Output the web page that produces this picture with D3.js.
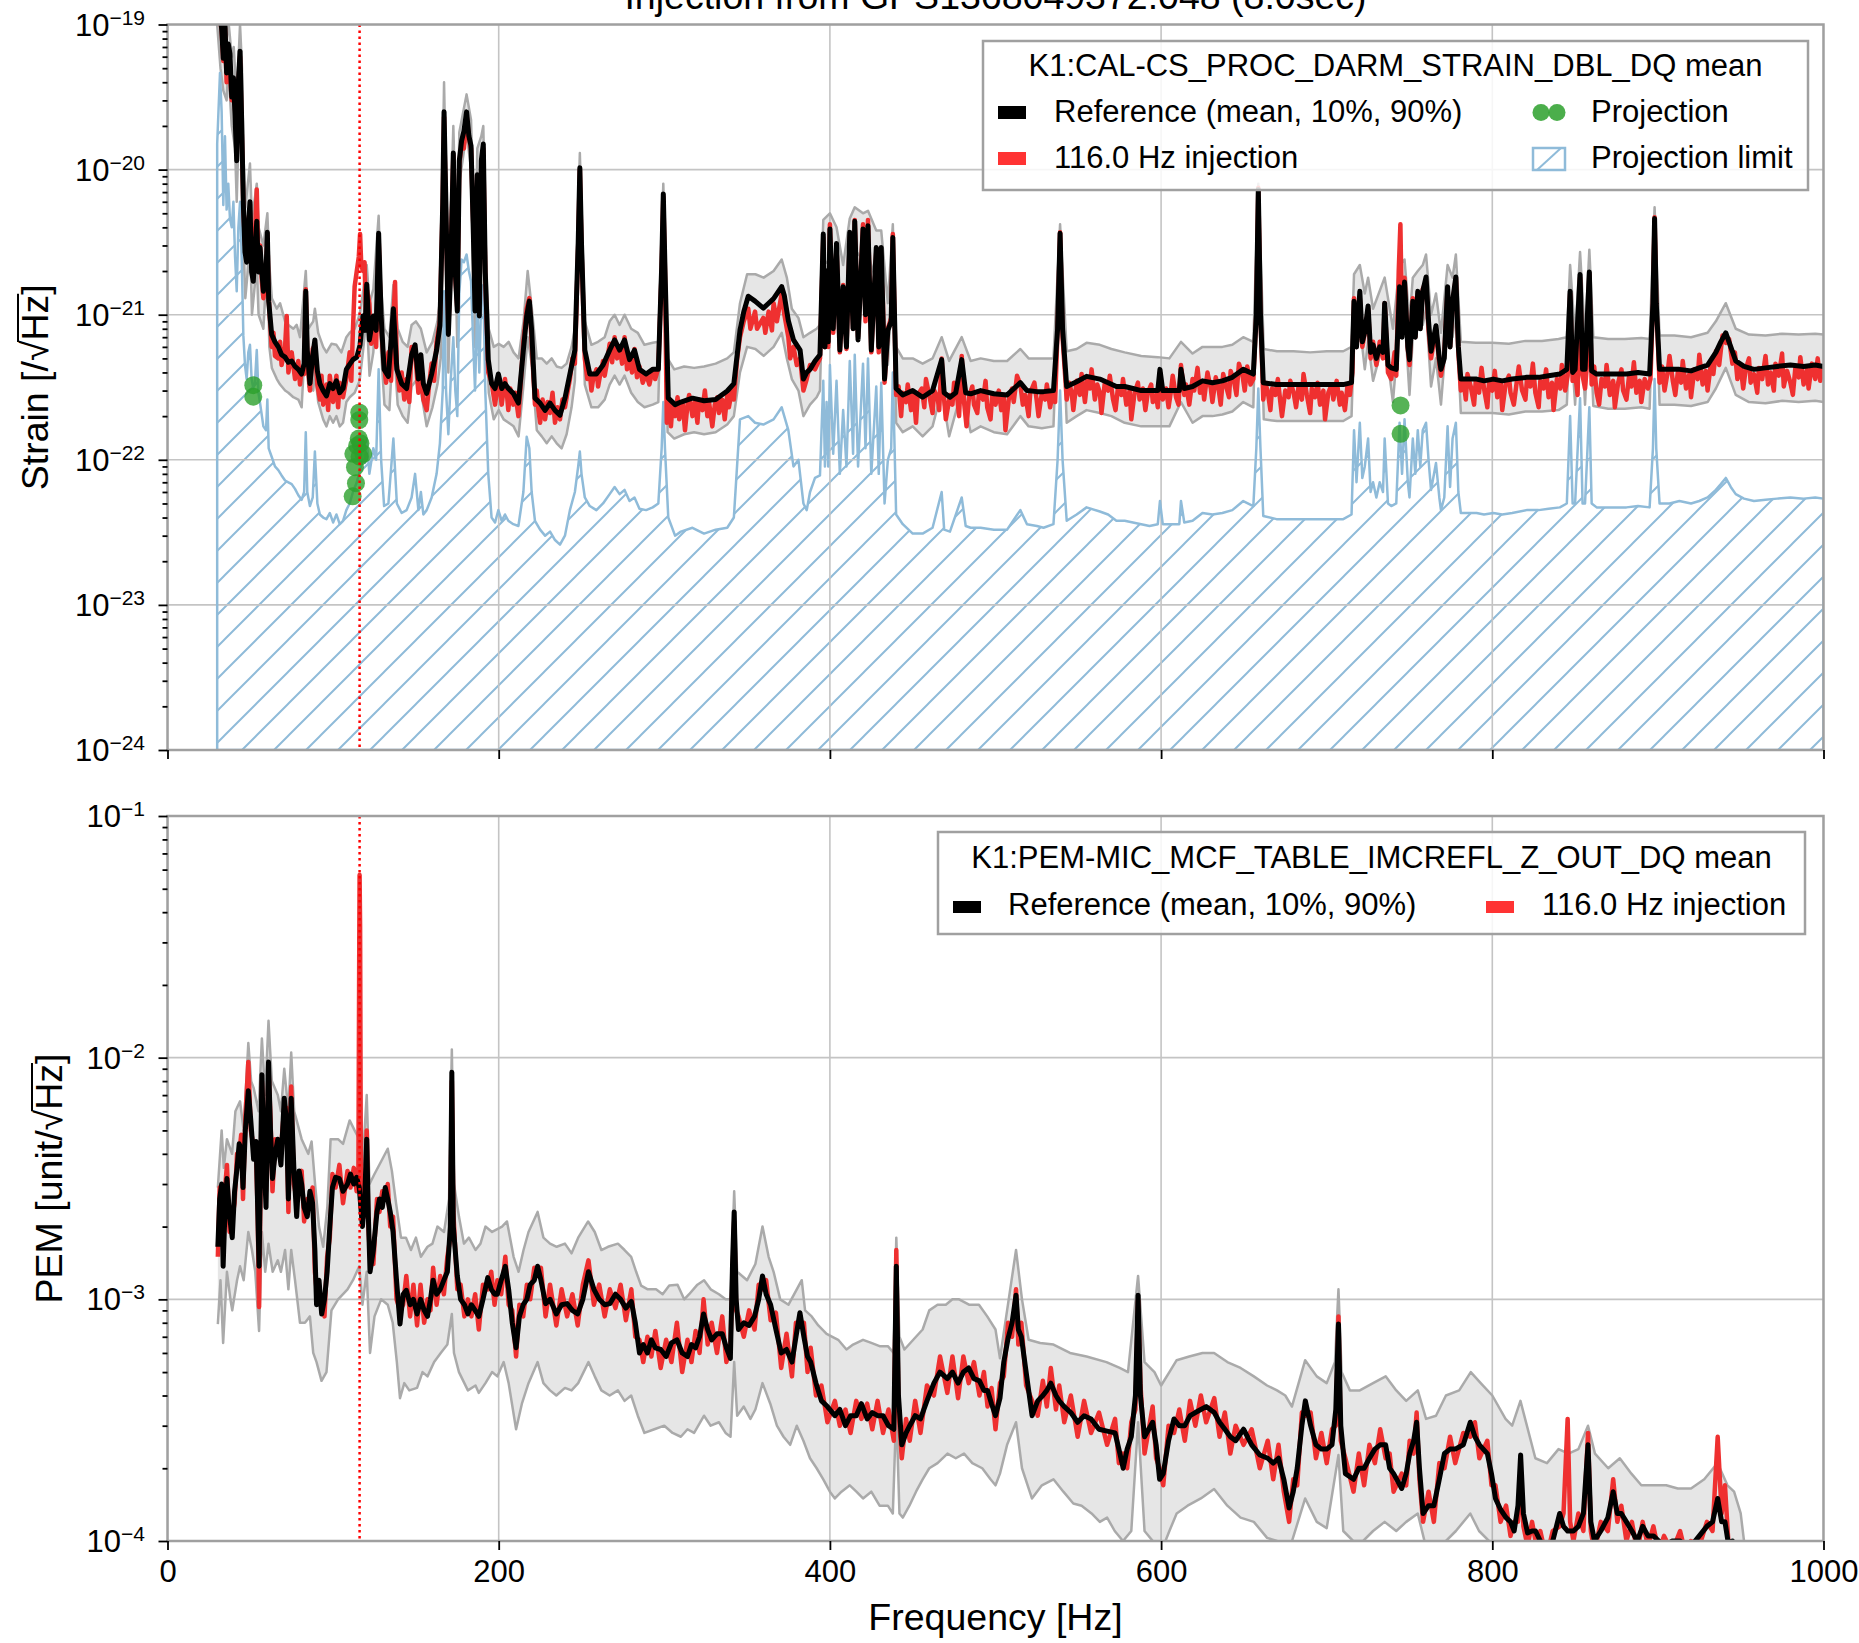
<!DOCTYPE html>
<html>
<head>
<meta charset="utf-8">
<script src="https://cdn.jsdelivr.net/npm/d3@7"></script>
<style>
body { margin: 0; background: #fff; }
svg { display: block; }
text { font-family: "Liberation Sans", Arial, Helvetica, sans-serif; fill: #000; }
</style>
</head>
<body>
<div id="chart"></div>
<script>
/* Chart values. Strain values are in units of 1e-22 /sqrt(Hz), PEM values in 1e-3 unit/sqrt(Hz). */
const STRAIN_UNIT = 1e-22;
const PEM_UNIT = 1e-3;
const injectionFreq = 116.0;
const chartTitle = 'Injection from GPS1368049372.048 (8.0sec)';
const xTicks = [0, 200, 400, 600, 800, 1000];
const strainChannel = 'K1:CAL-CS_PROC_DARM_STRAIN_DBL_DQ mean';
const pemChannel = 'K1:PEM-MIC_MCF_TABLE_IMCREFL_Z_OUT_DQ mean';

// Strain reference mean [freq Hz, value]
const strainMean = [[30,1300],[31.7,1200],[32.7,930],[33.7,585],[34.7,1000],[35.7,464],[36.7,735],[37.7,630],[38.8,316],[39.8,430],[40.8,230],[41.8,115],[42.8,400],[43.8,655],[44.8,214],[45.8,58],[46.8,27],[47.8,23],[48.8,40],[49.8,60],[50.8,19.7],[51.8,17],[52.8,27],[53.9,44],[54.9,19.7],[55.9,29],[57.9,14.5],[59.5,19.7],[60.3,37],[61.1,12.4],[62.9,7.3],[64.9,6.5],[66.9,6.0],[68.9,5.3],[71,5.1],[73,4.7],[75,4.8],[77,4.4],[79,4.2],[81,3.9],[82.5,4.6],[83.5,14.5],[84.4,5.7],[86,3.35],[87.7,5.2],[89,6.7],[90.5,4.1],[92,3.35],[94,3.0],[96,2.76],[98,3.35],[100,3.1],[102,3.5],[104,2.9],[106,3.1],[108,4.2],[110,4.55],[112,4.9],[114.3,5.1],[116.3,6.2],[118,9.8],[119.3,7.8],[120.3,16.2],[121.9,6.7],[124.3,9.8],[126,7.8],[127.5,36.4],[129,9.8],[130.8,4.2],[133.4,3.76],[136.4,11],[138.5,4.2],[141.4,3.35],[144.4,3.1],[147.4,5.3],[149.5,6.2],[151.5,3.6],[153,5.3],[154.5,3.35],[156.5,2.87],[159.5,3.9],[162.5,5.7],[164.5,8.4],[166.2,58],[167,250],[168.2,52],[169.6,7.3],[171,19.7],[172.6,130],[173.8,19.7],[175,10.6],[176.2,115],[177.6,158],[179,184],[180.6,250],[182,170],[183.3,146],[184.7,36],[185.7,10.6],[187.1,92],[188.3,9.8],[189.5,115],[190.7,150],[191.9,19.7],[193.7,4.9],[195.7,3.35],[197.8,3.1],[199.8,3.9],[201.8,3.1],[203.8,3.35],[205.8,3.1],[208.8,2.87],[211.9,2.46],[214.9,5.7],[216.9,9.8],[218.5,12.4],[219.9,7.8],[221.9,2.66],[225,2.46],[228,2.19],[231,2.46],[234,2.19],[237,2.03],[240,2.66],[243,3.9],[246,5.7],[248,31],[249,103],[250,31],[252,5.7],[255,3.9],[259,3.9],[263,4.5],[267,5.7],[270,6.7],[273,5.7],[276,6.7],[279,4.9],[282,5.7],[285,4.2],[289,3.9],[293,4.2],[296.4,4.2],[298.4,21],[299.4,68],[300.4,21],[302.4,2.66],[306.5,2.4],[310,2.5],[317,2.66],[324,2.55],[331,2.6],[338,2.98],[342,3.35],[345.7,7.8],[348,10.5],[350.7,13.4],[354.8,12.4],[359.8,11.1],[363,12],[366,12.9],[370.9,15.6],[372.5,13.5],[374.9,9.1],[378,6.7],[382,5.7],[384,3.6],[386,4.0],[388,4.2],[391,4.8],[394,5.3],[396,36],[397,6],[398,20],[399,6.5],[400,39],[402,8],[404,31],[406,5.7],[408,15.6],[410,6],[412,37],[414,8],[415,44],[417,6.7],[420,39],[421.5,10],[423,41],[425,5.7],[428,29],[429.5,6],[431,29],[433,3.6],[435,7.8],[437,9],[438,34],[440,3.1],[444,2.8],[450,3.0],[456,2.7],[462,3.0],[467.5,4.9],[469,2.9],[472.5,2.7],[476,2.9],[479.6,4.9],[482,2.9],[485,2.85],[491,3.0],[499,2.85],[507,2.8],[515,3.4],[519,3.0],[525,2.95],[529,2.95],[535,3.0],[537.5,8],[539,36.4],[540.5,8],[543,3.2],[549,3.45],[555,3.76],[563,3.6],[568,3.4],[573,3.2],[578,3.2],[583,3.1],[588,3.0],[593,3.0],[598,3.0],[599.3,4.2],[601,3.0],[605,3.0],[611,3.0],[612,4.2],[614,3.1],[619,3.2],[625,3.5],[631,3.4],[637,3.5],[643,3.7],[649.6,4.2],[655.7,3.9],[657.5,10],[658.7,73],[660,10],[661.7,3.4],[669.7,3.3],[679.8,3.3],[689.9,3.3],[700,3.3],[710,3.3],[715,3.4],[716.5,12.4],[718,6],[720,14.5],[721.5,6.5],[723,7.6],[725,11.5],[726.5,5.5],[728,6.2],[730,5],[732,6],[734,5.5],[735,12],[737,4.5],[739,4.3],[742,4.2],[744,15.6],[745.5,7],[747,16.8],[749,6],[750,4.9],[752,12.4],[753.5,7],[755,14.5],[756.5,8],[758,14.5],[760,18.2],[761.5,9],[763,5.6],[766,8.4],[768,5],[769,4.2],[771,5],[773,15.6],[774.5,6],[776,12.4],[778,18.2],[779.5,6],[781,3.6],[785,3.6],[790.5,3.6],[795,3.5],[800.6,3.6],[806,3.5],[812,3.6],[820.7,3.7],[828,3.7],[834,3.8],[840.8,3.9],[845,4.2],[847,14.5],[848.5,4],[850,4.2],[853,18.9],[854.5,4.2],[856,4.2],[858.6,19.7],[860,4.1],[863,3.9],[870,3.9],[876,3.9],[881,3.9],[888,4.0],[895,3.9],[897,12],[898,46],[899,12],[901,4.2],[907,4.2],[913,4.2],[920,4.1],[925,4.3],[930,4.5],[935,5.5],[938,6.5],[941,7.5],[944,6.0],[947,4.8],[952,4.4],[958,4.2],[965,4.3],[972,4.4],[980,4.5],[988,4.4],[995,4.5],[1000,4.4]];

// Strain reference 90th percentile
const strainP90 = [[30,1500],[32,1300],[34,1200],[35.7,800],[37,1000],[38.8,600],[40,700],[41.8,300],[43.8,1000],[45,500],[45.8,130],[47,55],[49.8,110],[51,45],[53.9,80],[55,40],[57.9,30],[60.3,50],[61.5,22],[63,13],[66,11],[68,12],[71,9],[73,8.5],[76,8],[78,8.5],[80,7],[83.5,20],[85,8],[88,9],[89,11],[91,7.5],[94,6],[96,5.5],[99,6.3],[102,6.2],[105,5.5],[108,7],[110,7.5],[113,8],[116,10],[118,14],[120.3,22],[122,12],[124.3,15],[127.5,48],[129,15],[131,8],[134,7],[136.4,16],[139,8],[142,6.5],[145,6],[147.4,8.5],[150,9],[153,8],[156.5,5.5],[160,6.5],[163,9],[165,14],[167,400],[169.6,12],[172.6,200],[175,18],[176.2,180],[180.6,330],[183.3,220],[185.7,20],[187.1,140],[189.5,170],[190.7,200],[192.5,20],[194,8],[197,6],[200,6.3],[203,6],[206,6.5],[209,5.5],[212,5],[215,9],[217.5,20],[220,11],[223,5],[226,5],[229,4.6],[232,5],[235,4.4],[238,4.3],[241,4.6],[244,6],[246,8],[249,130],[252,9],[256,6.2],[260,6.5],[264,7],[267,9],[270,10],[273,8.5],[276,10],[280,8],[284,7.5],[288,6.2],[293,6.4],[296.4,6.5],[299.4,80],[302,5],[306,4.2],[312,4.4],[318,4.3],[324,4.4],[331,4.6],[338,5],[342,5.5],[345.7,12],[350,19],[355,19],[360,18],[366,20],[370.9,24],[374,18],[377,11],[381,9.5],[384,7],[388,7.5],[392,8],[394,8.5],[396,45],[400,50],[404,40],[408,22],[412,46],[415,55],[420,50],[423,52],[428,38],[431,38],[435,12],[438,42],[440,6],[444,5],[450,5],[456,4.6],[462,5],[467.5,7],[472,4.8],[479.6,7],[485,4.8],[491,5],[499,4.8],[507,4.8],[515,5.8],[520,5],[528,5],[535,5],[539,42],[543,5.6],[549,5.8],[555,6.4],[563,6.2],[570,5.8],[578,5.5],[588,5.2],[598,5.1],[605,5],[612,6.5],[619,5.4],[625,6],[631,6],[637,6],[643,6.2],[649.6,7],[655.7,6.5],[658.7,80],[662,5.8],[670,5.6],[680,5.6],[690,5.5],[700,5.6],[710,5.6],[715,6],[716.5,19],[720,22],[723,14],[725,18],[728,11],[735,18],[740,8],[744,22],[747,24],[750,9],[752,18],[755,20],[758,22],[760,26],[763,10],[766,14],[769,7.5],[773,22],[776,18],[778,26],[781,6.5],[790,6.4],[800,6.4],[810,6.3],[820,6.6],[830,6.6],[840,6.8],[845,7],[847,22],[850,7],[853,27],[856,7],[858.6,28],[861,7],[870,6.8],[880,6.8],[890,6.9],[895,6.8],[898,55],[901,7.2],[910,7.2],[920,7],[930,7.5],[935,9],[941,12],[947,8],[955,7.3],[965,7.2],[975,7.4],[985,7.3],[995,7.4],[1000,7.3]];

// Strain reference 10th percentile
const strainP10 = [[30,1000],[32,500],[33.7,350],[35.7,300],[36.7,500],[38.8,200],[40.8,140],[41.8,60],[43.8,400],[44.8,120],[45.8,30],[47,13],[48.8,22],[49.8,35],[51,10],[53.9,22],[55,10],[57.9,8],[60.3,25],[61.5,6],[63,4.3],[66,3.6],[68,3.3],[71,3.0],[73,2.9],[76,2.7],[79,2.6],[81,2.3],[83.5,8],[85,3.2],[88,3.0],[89,4],[91,2.5],[94,1.9],[96,1.7],[98,2],[100,1.8],[102,2.0],[104,1.7],[106,1.8],[108,2.5],[110,2.7],[113,2.9],[116,3.5],[118,5.5],[120.3,10],[122,3.8],[124.3,5.5],[127.5,26],[129,5.5],[131,2.4],[134,2.2],[136.4,7],[139,2.4],[142,2],[145,1.8],[147.4,3.2],[150,3.5],[153,3],[156.5,1.7],[160,2.3],[163,3.3],[165,5],[167,160],[169.6,4],[172.6,90],[175,6],[176.2,80],[180.6,180],[183.3,100],[185.7,6],[187.1,60],[189.5,80],[190.7,100],[192.5,9],[194,2.9],[197,1.9],[200,2.2],[203,1.9],[206,1.8],[209,1.7],[212,1.45],[215,3.3],[217.5,7],[220,4.5],[223,1.6],[226,1.45],[229,1.3],[232,1.45],[235,1.3],[238,1.2],[241,1.5],[244,2.3],[246,3.5],[249,80],[252,3.3],[256,2.3],[260,2.3],[264,2.6],[267,3.3],[270,3.8],[273,3.3],[276,3.8],[280,2.9],[284,2.5],[288,2.3],[293,2.4],[296.4,2.5],[299.4,50],[302,1.55],[306,1.4],[312,1.5],[318,1.55],[324,1.5],[331,1.55],[338,1.75],[342,2],[345.7,4],[350,6],[355,5.8],[360,5.2],[366,6],[370.9,7.5],[374,5],[377,3.6],[381,3],[384,2],[388,2.4],[392,2.7],[394,3],[396,22],[400,24],[404,19],[408,9],[412,22],[415,28],[420,24],[423,26],[428,17],[431,17],[435,4.5],[438,22],[440,1.8],[444,1.55],[450,1.7],[456,1.45],[462,1.7],[467.5,3],[472,1.45],[479.6,3],[485,1.55],[491,1.7],[499,1.55],[507,1.5],[515,2],[520,1.7],[528,1.65],[535,1.7],[539,28],[543,1.8],[549,2],[555,2.2],[563,2.1],[570,2],[578,1.8],[588,1.7],[598,1.7],[605,1.7],[612,2.5],[619,1.8],[625,2],[631,2],[637,2.05],[643,2.15],[649.6,2.5],[655.7,2.3],[658.7,60],[662,1.9],[670,1.85],[680,1.85],[690,1.85],[700,1.85],[710,1.85],[715,2],[716.5,7],[720,8.5],[723,4.2],[725,6.5],[728,3.5],[735,7],[740,2.5],[744,9],[747,10],[750,2.8],[752,7],[755,8.5],[758,8.5],[760,11],[763,3.2],[766,5],[769,2.4],[773,9],[776,7],[778,11],[781,2.1],[790,2.1],[800,2.1],[810,2.05],[820,2.15],[830,2.15],[840,2.2],[845,2.4],[847,8.5],[850,2.4],[853,11],[856,2.4],[858.6,11],[861,2.35],[870,2.25],[880,2.25],[890,2.3],[895,2.25],[898,30],[901,2.4],[910,2.4],[920,2.35],[930,2.5],[935,3.1],[941,4.3],[947,2.8],[955,2.5],[965,2.45],[975,2.55],[985,2.5],[995,2.55],[1000,2.5]];

// Strain during the 116 Hz injection
const strainInj = [[30,1300],[31.7,1100],[32.7,900],[33.7,560],[34.7,950],[35.7,400],[36.7,700],[37.7,480],[38.8,300],[39.8,420],[40.8,260],[41.8,170],[42.8,380],[43.8,600],[44.8,190],[45.8,55],[46.8,30],[47.8,35],[48.8,45],[49.8,52],[50.8,23],[51.8,18],[52.8,35],[53.9,73],[54.9,22],[55.9,30],[57,17],[57.9,13],[59.5,18],[60.3,36],[61.1,13],[62.9,6],[64,7.5],[64.9,5.2],[66.9,5],[68,6.5],[68.9,4.5],[71,6],[72,9.8],[73,4],[75,5.5],[77,3.6],[79,4.8],[80,3.3],[81,4.2],[82.5,3.9],[83.5,15],[84.4,5],[86,3.0],[87.7,5.8],[89,6.2],[90.5,3.3],[92,2.6],[93,3.8],[94,2.4],[96,3.3],[97,2.2],[98,3.8],[100,2.5],[102,3.8],[103,2.3],[104,3.4],[106,2.7],[108,3.6],[110,5.5],[111,3.5],[112,8],[113,15.6],[114.3,20],[115.5,25],[116.3,36],[117,22],[118,20],[119,23],[119.8,10],[120.3,15],[121.9,12],[123,6.3],[124.3,9],[126,6],[127.5,34],[129,8],[130.8,4.5],[132,3.4],[133.4,5.5],[135,3.5],[136.4,9],[137.4,16.8],[138.5,4.5],[140,3],[141.4,4],[143,2.6],[144.4,3.6],[146,2.5],[147.4,6],[149.5,5.5],[151.5,2.9],[153,4.5],[154.5,2.6],[156.5,2.2],[158,3.3],[159.5,4.6],[161,3.5],[162.5,6.5],[164.5,9],[166.2,60],[167,230],[168.2,45],[169.6,8],[171,22],[172.6,125],[173.8,18],[175,11],[176.2,110],[177.6,150],[179,140],[180.6,240],[182,165],[183.3,140],[184.7,40],[185.7,25],[187.1,80],[188.3,12],[189.5,100],[190.7,140],[191.9,18],[193.7,4],[195.7,3.4],[197.8,2.4],[199.8,3.6],[201,2.9],[201.8,2.4],[203.8,3.6],[205,2.8],[205.8,2.2],[207,3.1],[208.8,2.4],[210,2.9],[211.9,2.0],[213,3.0],[214.9,6.5],[216.9,11],[218.5,13],[219.9,6.5],[221.9,2.4],[223,3.0],[224,2.2],[225,1.8],[226.5,2.6],[228,1.9],[229.5,2.5],[231,2.1],[232.5,2.9],[234,1.8],[235.5,2.3],[237,1.9],[238.5,2.6],[240,2.3],[241.5,2.9],[243,3.6],[244.5,5.0],[246,4.6],[248,30],[249,100],[250,28],[252,5],[253.5,3.6],[255,4.0],[256,3.0],[257,3.6],[259,4.2],[260,3.2],[261,3.7],[263,4.8],[264,3.8],[265,4.4],[267,6.3],[268.5,4.7],[270,7.0],[271.5,5.0],[273,6.0],[274.5,4.6],[276,7.0],[277.5,4.2],[279,5.0],[280.5,4.0],[282,5.8],[283.5,3.7],[285,4.4],[287,3.4],[289,3.9],[291,3.3],[293,4.2],[294.5,3.6],[296.4,4.3],[298.4,20],[299.4,65],[300.4,20],[301.5,1.8],[302.4,2.6],[304,1.7],[305,2.4],[306.5,2.0],[308,2.7],[309,1.9],[311,2.5],[312.5,1.6],[314,2.4],[315,2.8],[317,2.0],[318.5,2.5],[320,1.8],[321,2.6],[323,2.2],[324.5,3.0],[326,2.0],[327,2.5],[329,1.7],[330.5,2.4],[332,2.7],[333,2.1],[335,2.6],[336.5,1.9],[338,2.8],[339,2.3],[341,3.1],[342,2.6],[344,5],[345.7,7],[348,9],[350.7,11],[352,8],[354.8,10.5],[356,8],[359.8,9.5],[361,7.5],[363,10.5],[365,7.8],[366,12],[368,9],[370.9,14],[372.5,10],[374.9,7],[376,5],[378,6],[380,4.5],[382,5],[384,3],[386,3.6],[388,4.5],[391,4.2],[394,5],[396,34],[397,6],[398,18],[399,6],[400,42],[402,7.5],[404,30],[406,5.5],[408,16],[410,5.8],[412,34],[414,8],[415,45],[417,7],[420,42],[421.5,9],[423,45],[425,5.5],[428,27],[429.5,5.5],[431,20],[432,12],[433,3.4],[435,8],[437,9.5],[438,36],[440,2.8],[441.5,3.2],[443,2.0],[444,2.9],[446,2.5],[447,3.3],[449,2.2],[450.5,2.9],[452,1.8],[453,2.8],[455.5,3.1],[457,2.3],[458,3.6],[460.5,2.6],[462,2.1],[463,3.0],[465,2.7],[466,2.2],[467.5,5],[469,2.6],[470,1.9],[472.5,2.8],[474,2.4],[475,3.4],[477,2.6],[478,2.0],[479.6,5.2],[481,2.5],[482.5,1.7],[484,2.7],[486,3.2],[487,2.4],[489,2.1],[490,2.9],[492.5,2.6],[494,3.5],[495,2.3],[497,1.9],[498,2.8],[500,2.4],[502,3.0],[503.5,2.2],[505,2.7],[506,1.6],[508,2.6],[510,3.1],[511,2.5],[513,3.8],[515,3.3],[516.5,2.4],[518,2.8],[520,2.0],[521,2.9],[523.5,3.4],[525,2.5],[526,2.0],[528,2.9],[530,2.6],[531,3.3],[533,2.3],[534.5,2.9],[536,2.5],[537.5,8],[539,37],[540.5,7],[543,2.6],[544.5,3.4],[546,2.9],[547,2.2],[549,3.5],[551,2.8],[552,3.9],[554,2.5],[555.5,3.6],[557,3.1],[558,4.2],[560,2.6],[561.5,3.3],[563,2.9],[564,2.1],[566,3.4],[568,3.0],[569,3.8],[571,2.6],[572.5,2.2],[574,3.2],[576,2.8],[577,3.6],[579,2.4],[581,3.0],[582,1.9],[584,2.9],[586,3.4],[587,2.6],[589,3.1],[590.5,2.2],[592,2.9],[594,3.3],[595,2.5],[597,2.8],[598,2.3],[599.3,4],[601,2.6],[603,3.1],[604.5,2.3],[606,3.0],[607,3.8],[609,2.7],[610.5,2.4],[612,4.5],[614,2.8],[615,3.3],[617,2.4],[619,3.6],[620,3.0],[622,4.3],[623.5,2.9],[625,3.4],[626,2.6],[628,4.0],[630,3.1],[631,2.5],[633,3.7],[634.5,3.2],[636,2.4],[637.5,3.9],[639,3.3],[641,2.7],[642,4.1],[644,3.5],[645.5,2.8],[647,4.6],[649,3.9],[650.5,3.0],[652,4.4],[654,3.3],[655.7,3.6],[657.5,10],[658.7,75],[660,10],[661.7,2.6],[663,3.4],[664.5,2.9],[666,2.2],[667,3.1],[669,2.8],[670.5,3.6],[672,2.5],[673,2.0],[675,3.0],[677,2.7],[678,3.5],[680,2.9],[681.5,2.3],[683,3.2],[685,2.6],[686,3.9],[688,2.8],[690,2.1],[691,3.1],[693,2.7],[694.5,3.4],[696,2.4],[698,3.0],[699,1.9],[701,2.9],[703,3.3],[704,2.6],[706,3.5],[708,2.4],[709,2.9],[711,2.2],[712.5,3.2],[714,2.8],[715.5,4],[716.5,13],[718,6],[720,13],[721.5,6],[723,7.5],[725,11],[726.5,5],[728,6.5],[730,4.5],[732,6.5],[734,5],[735,12],[737,4],[739,3.6],[741,5.5],[742,3.8],[743.5,20],[744.5,42],[745.5,8],[747,18],[749,5.8],[750,4.5],[752,13],[753.5,7],[755,14],[756.5,8],[758,15],[760,17],[761.5,8],[763,5],[766,8],[768,4.6],[769,3.8],[771,5.3],[773,15],[774.5,6],[776,12],[778,18],[779.5,5.5],[781,3.0],[782.5,3.6],[784,2.6],[785,3.9],[787,3.2],[789,2.4],[790,3.5],[792,2.9],[793.5,4.3],[795,3.1],[797,2.3],[798,3.4],[800,3.0],[801.5,4.1],[803,2.7],[805,3.5],[806,2.2],[808,3.3],[810,3.8],[811,2.9],[813,2.4],[815,3.6],[816,4.4],[818,3.0],[820,2.6],[821,3.7],[823,3.2],[824.5,4.6],[826,2.9],[828,2.3],[829,3.5],[831,3.1],[832.5,4.2],[834,2.7],[836,3.4],[837,2.2],[839,3.6],[841,3.1],[842,4.5],[844,3.0],[845.5,3.8],[847,14],[848.5,3.5],[850,4.0],[851.5,2.8],[853,18],[854.5,3.8],[856,3.1],[857,4.3],[858.6,19],[860,3.3],[861.5,4.4],[863,2.9],[864.5,2.4],[866,3.6],[868,3.2],[869,4.5],[871,2.8],[873,3.5],[874,2.3],[876,3.4],[878,4.2],[879,3.0],[881,2.6],[882.5,3.7],[884,3.2],[885.5,4.7],[887,2.9],[889,3.5],[890,2.5],[892,3.6],[894,3.1],[895.5,3.6],[897,12],[898,47],[899,12],[901,3.4],[902.5,4.4],[904,3.0],[906,4.1],[907,5.2],[909,3.5],[910.5,2.8],[912,4.0],[914,3.4],[915,4.8],[917,3.1],[919,3.9],[920,2.7],[922,4.2],[924,3.6],[925,5.3],[927,3.3],[929,4.1],[930,3.0],[932,4.6],[933.5,3.9],[935,5.6],[937,4.5],[939,7.2],[941,6.4],[943,6.8],[945,4.6],[946.5,5.5],[948,3.6],[950,4.4],[951.5,3.1],[953,4.2],[955,5.0],[956,3.4],[958,3.9],[960,2.9],[961,4.3],[963,3.6],[965,5.2],[966.5,3.3],[968,4.0],[970,3.0],[971,4.6],[973,3.8],[975,5.4],[976,3.2],[978,4.1],[980,3.4],[981.5,2.8],[983,4.3],[985,3.7],[986,5.1],[988,3.3],[990,4.2],[991,3.1],[993,4.6],[995,3.6],[996.5,5.0],[998,3.5],[1000,4.3]];

// Projection limit (hatched region)
const strainLimit = [[30,150],[31.7,464],[32.7,250],[33.7,57],[34.7,170],[35.7,53],[36.7,80],[37.7,46],[38.8,40],[39.8,60],[40.8,25],[41.8,14.5],[42.8,40],[43.8,60],[44.8,25],[45.8,7.2],[46.8,4.5],[47.8,3.6],[48.8,5.5],[49.8,6.2],[50.8,3.6],[51.8,3.1],[52.8,3.4],[53.9,5.7],[54.9,2.9],[55.9,2.46],[57.9,1.7],[59.5,1.6],[60.3,2.6],[61.1,1.2],[62.9,1.05],[64.9,0.9],[66.9,0.85],[68.9,0.78],[71,0.72],[73,0.7],[75,0.68],[77,0.63],[79,0.57],[81,0.53],[82.5,0.6],[83.5,1.55],[84.4,0.6],[86,0.48],[87.7,0.55],[89,1.14],[90.5,0.5],[92,0.42],[94,0.4],[96,0.39],[98,0.43],[100,0.37],[102,0.42],[104,0.36],[106,0.38],[108,0.45],[110,0.5],[112,0.6],[114.3,0.7],[116.3,0.85],[118,1.0],[119.3,0.95],[120.3,1.4],[121.9,0.8],[124.3,1.2],[126,1.0],[127.5,4.2],[129,1.0],[130.8,0.48],[133.4,0.5],[136.4,1.4],[138.5,0.5],[141.4,0.43],[144.4,0.45],[147.4,0.55],[149.5,0.8],[151.5,0.45],[153,0.6],[154.5,0.42],[156.5,0.45],[159.5,0.55],[162.5,0.8],[164.5,1.3],[166.2,3],[167,14.5],[168.2,3],[169.6,1.5],[171,3.5],[172.6,7],[173.8,3],[175,2],[176.2,14],[177.6,24],[179,23],[180.6,26],[182,20],[183.3,17],[184.7,6],[185.7,3],[187.1,12],[188.3,4],[189.5,14],[190.7,16],[191.9,3],[193.7,0.8],[195.7,0.4],[197.8,0.37],[199.8,0.45],[201.8,0.38],[203.8,0.42],[205.8,0.38],[208.8,0.36],[211.9,0.35],[214.9,0.6],[216.9,1.44],[218.5,1.2],[219.9,0.6],[221.9,0.38],[225,0.33],[228,0.3],[231,0.32],[234,0.28],[237,0.26],[240,0.3],[243,0.45],[246,0.6],[248,0.9],[249,1.14],[250,0.8],[252,0.55],[255,0.48],[259,0.45],[263,0.5],[267,0.58],[270,0.65],[273,0.58],[276,0.62],[279,0.52],[282,0.55],[285,0.46],[289,0.45],[293,0.47],[296.4,0.5],[298.4,1.2],[299.4,2.5],[300.4,1.2],[302.4,0.4],[306.5,0.3],[310,0.32],[317,0.34],[324,0.31],[331,0.33],[338,0.34],[342,0.4],[345.7,1.9],[350.7,2.0],[354.8,1.8],[359.8,1.75],[366,1.9],[370.9,2.3],[374.9,1.6],[378,0.9],[381,1.0],[384,0.5],[386,0.45],[388,0.6],[391,0.75],[394,0.78],[396,3.5],[397,0.9],[398,2.5],[399,0.9],[400,4.5],[402,1.1],[404,3.5],[406,0.8],[408,2.2],[410,0.9],[412,4.8],[414,1.1],[415,5.3],[417,0.9],[420,4.6],[421.5,1.2],[423,5],[425,0.8],[428,3.2],[429.5,0.8],[431,3.4],[433,0.5],[435,1.0],[437,1.2],[438,4.0],[440,0.42],[444,0.36],[450,0.31],[456,0.31],[462,0.34],[467.5,0.6],[469,0.33],[472.5,0.32],[479.6,0.55],[482,0.35],[485,0.34],[491,0.34],[499,0.33],[507,0.33],[515,0.45],[519,0.36],[525,0.35],[529,0.34],[535,0.36],[537.5,1.0],[539,3.0],[540.5,1.0],[543,0.38],[549,0.42],[555,0.47],[563,0.44],[568,0.42],[573,0.38],[578,0.38],[583,0.37],[588,0.36],[593,0.35],[598,0.36],[599.3,0.52],[601,0.36],[605,0.36],[611,0.36],[612,0.52],[614,0.37],[619,0.38],[625,0.43],[631,0.42],[637,0.43],[643,0.45],[649.6,0.52],[655.7,0.48],[657.5,1.2],[658.7,3.1],[660,1.2],[661.7,0.41],[669.7,0.39],[679.8,0.39],[689.9,0.39],[700,0.39],[710,0.39],[715,0.42],[716.5,1.6],[718,0.7],[720,1.8],[721.5,0.75],[723,0.9],[725,1.4],[726.5,0.6],[728,0.7],[730,0.55],[732,0.7],[734,0.6],[735,1.4],[737,0.5],[739,0.48],[742,0.5],[744,1.8],[745.5,0.8],[747,1.9],[749,0.7],[750,0.55],[752,1.4],[753.5,0.8],[755,1.6],[756.5,0.9],[758,1.6],[760,1.8],[761.5,1.0],[763,0.62],[766,0.95],[768,0.55],[769,0.45],[771,0.55],[773,1.7],[774.5,0.65],[776,1.4],[778,1.8],[779.5,0.6],[781,0.43],[785,0.43],[790.5,0.43],[795,0.42],[800.6,0.43],[806,0.42],[812,0.43],[820.7,0.45],[828,0.45],[834,0.46],[840.8,0.47],[845,0.5],[847,2.0],[848.5,0.5],[850,0.5],[853,2.66],[854.5,0.5],[856,0.5],[858.6,2.3],[860,0.5],[863,0.47],[870,0.47],[876,0.47],[881,0.47],[888,0.48],[895,0.47],[897,1.2],[898,3.6],[899,1.2],[901,0.5],[907,0.5],[913,0.52],[920,0.5],[925,0.52],[930,0.55],[935,0.62],[938,0.68],[941,0.75],[944,0.65],[947,0.58],[952,0.54],[958,0.52],[965,0.53],[972,0.54],[980,0.55],[988,0.54],[995,0.55],[1000,0.54]];

// Projection points
const strainProj = [[51.8,3.27],[51.8,2.72],[115.8,2.12],[115.8,1.88],[115.5,1.4],[114.5,1.25],[116.5,1.3],[118.2,1.1],[112.2,1.1],[116,1.05],[113.2,0.89],[113.8,0.69],[111.8,0.56],[744.6,2.37],[744.6,1.51]];

// PEM reference mean
const pemMean = [[30.4,1.65],[31.5,2.6],[32.7,3.0],[33.6,1.37],[34.8,2.4],[35.9,3.16],[37.5,2.2],[39.1,1.8],[40.5,2.8],[42,3.5],[43.3,4.4],[44.5,4.2],[45.6,2.9],[47,5.0],[48.8,7.3],[50.3,5.5],[52,3.8],[53.5,4.5],[55.3,1.37],[57,8.5],[58.2,4.0],[59.5,2.4],[61,9.6],[62.2,5.0],[63.4,3.16],[65,4.0],[66.6,4.6],[68.5,3.6],[70.5,6.8],[71.8,5.5],[73,2.6],[74.7,6.8],[76.3,3.5],[78,2.2],[79.5,3.4],[81,3.0],[82.5,2.4],[84.4,2.2],[86,2.8],[87.6,2.5],[89,1.6],[90,0.95],[91.5,1.2],[93.1,0.87],[94.8,1.0],[96.4,1.3],[98,2.0],[99.6,2.9],[101.5,3.2],[103.8,3.16],[106,2.8],[108.7,3.0],[110.5,3.3],[112.5,3.0],[114.2,3.2],[115.8,2.9],[117.7,2.0],[119,2.5],[120.3,4.6],[121.3,2.2],[122.3,1.3],[124.3,1.6],[126.5,2.3],[128,2.6],[129.7,2.4],[131.5,2.9],[133,2.6],[134.5,2.3],[136.2,1.9],[138.3,1.2],[140.4,0.79],[142.3,1.05],[144.2,1.09],[146.5,0.95],[148.5,1.0],[150.7,0.87],[152.8,1.0],[155,0.9],[157,0.85],[158.8,1.0],[160.4,1.2],[162.5,1.05],[164.7,1.1],[166.9,1.2],[169,1.3],[170.8,2.0],[171.7,8.7],[172.6,2.0],[175,1.25],[177,1.0],[179.3,0.95],[181.4,0.87],[183.5,0.95],[185.8,0.9],[188,0.85],[190.5,1.0],[193.4,1.23],[195.5,1.1],[197.5,1.05],[199.2,1.05],[201.5,1.2],[204,1.37],[206,1.1],[208.2,0.8],[210.5,0.63],[212.5,0.85],[214.8,0.95],[217,1.0],[219,1.15],[221.5,1.2],[223.5,1.37],[225.5,1.2],[228.3,0.96],[231,1.0],[234.8,0.87],[238,0.95],[241.3,0.96],[244.5,0.9],[247.7,0.87],[250.8,1.0],[254.2,1.3],[257.5,1.1],[260.7,1.0],[264,0.95],[267.1,0.96],[270.5,1.05],[273.6,1.0],[276.8,0.92],[280.1,0.98],[282.5,0.8],[285,0.6],[287.3,0.65],[289.8,0.6],[292.2,0.68],[294.6,0.63],[297.8,0.62],[301.1,0.58],[304.3,0.66],[307.6,0.68],[310.8,0.6],[314,0.58],[316.4,0.65],[318.9,0.63],[321.3,0.7],[323.7,0.87],[326.2,0.75],[328.6,0.68],[331.8,0.72],[335,0.72],[337.5,0.63],[339.9,0.57],[341.2,1.4],[342.2,2.3],[343.4,1.0],[344.8,0.75],[348,0.8],[351.2,0.78],[354.5,0.85],[357,1.0],[359.3,1.25],[361.5,1.05],[364.2,0.95],[367.4,0.75],[370.6,0.6],[373.8,0.62],[377.1,0.55],[379.5,0.7],[381.9,0.88],[384.3,0.7],[386.5,0.58],[388.4,0.55],[391.6,0.45],[394.9,0.38],[398.5,0.36],[403,0.33],[406,0.35],[409.4,0.3],[412.5,0.33],[415.9,0.33],[419,0.37],[422.5,0.32],[425.6,0.34],[428.8,0.33],[432.1,0.33],[435.4,0.3],[438.6,0.29],[440.1,1.37],[441.4,0.4],[443.4,0.25],[446,0.28],[448.2,0.3],[451.5,0.33],[454.7,0.32],[458.6,0.38],[462.8,0.45],[466.5,0.5],[470.9,0.47],[474,0.5],[477.4,0.45],[480.6,0.5],[483.8,0.52],[487,0.47],[490.3,0.46],[493,0.42],[495.2,0.42],[497.6,0.37],[500,0.33],[502.7,0.39],[505,0.55],[507.6,0.69],[510,0.8],[512.4,1.04],[513.8,0.75],[515.6,0.7],[518.5,0.5],[522.1,0.33],[525.5,0.38],[528.6,0.4],[531,0.42],[533.4,0.45],[536.5,0.4],[538.5,0.38],[541.5,0.36],[545.5,0.34],[549.6,0.31],[553.5,0.33],[557.7,0.32],[562.5,0.29],[567.4,0.285],[572.2,0.28],[574.5,0.24],[577.1,0.2],[579.5,0.24],[582,0.27],[584.5,0.4],[586.1,1.04],[587.5,0.4],[590,0.27],[594.9,0.31],[597,0.25],[599.1,0.18],[601.3,0.19],[604.5,0.26],[607.8,0.32],[611,0.3],[614.3,0.3],[617.5,0.33],[620.7,0.34],[624,0.35],[627.2,0.36],[632.1,0.34],[635.3,0.31],[638.5,0.29],[641.8,0.27],[645,0.26],[649.8,0.29],[654.7,0.25],[659.6,0.227],[664.4,0.22],[667.7,0.21],[670.9,0.22],[674.1,0.18],[677.3,0.137],[679.8,0.16],[682.2,0.2],[685,0.3],[687.1,0.38],[690.3,0.3],[693.5,0.25],[696.8,0.24],[700,0.24],[703.2,0.25],[705.5,0.35],[707.1,0.79],[708.5,0.3],[711.3,0.19],[716.2,0.18],[719.4,0.2],[722.6,0.2],[725.8,0.22],[729.1,0.24],[732.3,0.25],[735.6,0.25],[738,0.2],[740.4,0.19],[745.3,0.165],[748,0.19],[750.1,0.23],[752.5,0.26],[754.3,0.31],[756,0.2],[758.2,0.13],[761.5,0.14],[764.7,0.14],[768,0.18],[771.1,0.23],[774.5,0.24],[777.6,0.24],[782.5,0.25],[786.7,0.31],[789.5,0.27],[792.2,0.25],[797,0.23],[799.5,0.19],[801.9,0.15],[805,0.135],[808.3,0.125],[811,0.12],[813.2,0.11],[815.5,0.14],[817.1,0.227],[818.8,0.13],[821.3,0.108],[824,0.11],[826.1,0.11],[829,0.1],[832.6,0.095],[836.5,0.1],[840.7,0.13],[843,0.115],[845.5,0.11],[849,0.11],[852,0.115],[855,0.13],[857.8,0.25],[859.5,0.12],[861.7,0.1],[865.5,0.11],[869.8,0.125],[873,0.16],[875.5,0.13],[877.9,0.13],[881,0.12],[884.3,0.11],[887.5,0.1],[890.8,0.115],[894,0.105],[897.3,0.105],[900.5,0.1],[903.7,0.095],[908.5,0.1],[913.4,0.1],[916.5,0.095],[919.9,0.095],[925,0.105],[929.6,0.115],[933,0.12],[936.1,0.15],[938.5,0.12],[940.5,0.12],[942.5,0.098],[945,0.1],[948,0.09],[951,0.08],[953,0.05]];

// PEM reference 90th percentile
const pemP90 = [[30.4,2.9],[32.7,5.0],[34,3.5],[35.9,4.6],[39,4.0],[41,6],[43.8,6.6],[46,5],[48.8,11.5],[50.5,8],[52,7.5],[55,6],[57,12],[59,7],[61,14.2],[63,8],[66.6,7],[68.5,6],[70.5,9],[73,6],[74.7,10.5],[76.5,6],[78,5.5],[81,4.6],[85,4.0],[87,4.5],[89.3,2.9],[91.5,2.0],[94,1.65],[96.5,2.4],[98.5,4.6],[103,4.6],[106,4.4],[110,5.5],[113,5.0],[115.8,4.6],[117.8,3.6],[120.3,7],[122,3.0],[125,3.3],[129.7,3.8],[133,4.2],[135.5,3.4],[138,2.5],[141,1.8],[144,1.8],[147,1.6],[150,1.8],[153,1.5],[157,1.65],[160,1.7],[163,2.0],[167,1.9],[170,2.6],[171.7,10.8],[173,3],[176,2.2],[179,1.7],[182,1.8],[186,1.6],[189,1.7],[192,2.0],[196,1.9],[202,2.0],[205,2.1],[209,1.5],[212,1.3],[215,1.6],[218,1.9],[223.5,2.3],[227,1.8],[231,1.7],[235,1.65],[240,1.7],[244,1.55],[248,1.8],[254,2.1],[258,1.9],[262,1.6],[266,1.65],[272,1.7],[276,1.6],[280,1.5],[283,1.3],[286,1.14],[290,1.1],[295,1.1],[299,1.05],[303,1.14],[308,1.15],[312,1.0],[315,1.05],[320,1.15],[324,1.2],[328,1.1],[333,1.05],[337,1.0],[340,1.0],[342.2,2.8],[344,1.3],[350,1.2],[355,1.4],[359.3,2.0],[363,1.5],[366,1.3],[370,1.0],[375,0.95],[380,1.1],[383,1.2],[385,0.9],[389,0.85],[393,0.78],[398,0.72],[405,0.68],[410,0.62],[414,0.65],[420,0.68],[425,0.66],[430,0.64],[435,0.64],[438.5,0.6],[440.1,1.8],[442,0.7],[445,0.62],[452,0.7],[456,0.75],[460,0.9],[465,0.95],[470,0.95],[474,1.0],[478,1.0],[484,0.95],[490,0.95],[495,0.85],[500,0.75],[502.7,0.57],[507,0.9],[512.4,1.6],[516,1.0],[520,0.68],[527,0.66],[535,0.65],[545,0.6],[555,0.58],[567,0.55],[575,0.52],[580,0.5],[586.1,1.25],[590,0.55],[596,0.5],[600,0.44],[605,0.5],[609.4,0.56],[617,0.58],[625,0.6],[632,0.6],[640,0.55],[648,0.52],[656,0.48],[664,0.44],[670,0.42],[675,0.4],[679,0.36],[687,0.56],[694,0.48],[700,0.45],[705,0.55],[707.1,1.1],[709,0.5],[714,0.42],[720,0.42],[728,0.45],[735.6,0.48],[742,0.42],[748,0.38],[755,0.42],[760,0.32],[766,0.33],[772,0.4],[780,0.42],[787,0.5],[793,0.45],[800,0.4],[808,0.32],[812,0.3],[817,0.38],[826,0.22],[833,0.21],[840,0.24],[846,0.23],[852,0.24],[857.8,0.3],[862,0.23],[870,0.2],[877,0.22],[884,0.19],[890,0.17],[897,0.17],[905,0.17],[912,0.165],[920,0.165],[928,0.18],[936,0.21],[942,0.17],[946,0.16],[950,0.13],[952,0.1],[954,0.05]];

// PEM reference 10th percentile
const pemP10 = [[30.4,0.79],[32,1.2],[33.6,0.66],[35.9,1.3],[38,1.0],[39.1,0.9],[42,1.2],[43.8,1.37],[46,1.2],[48.8,1.9],[51,1.6],[53,1.3],[55.3,0.74],[57,1.9],[59,1.3],[61,1.7],[63.5,1.3],[66.6,1.45],[68.5,1.3],[71,1.6],[73,1.1],[74.7,1.6],[77,1.2],[80,0.8],[83,0.8],[86,0.85],[88,0.6],[90,0.55],[93,0.46],[96,0.5],[99,0.9],[103,1.0],[108.7,1.1],[112,1.2],[115.8,1.37],[117.7,0.95],[120.3,1.3],[122.3,0.6],[125,0.85],[129,1.0],[133,0.95],[136,0.8],[138.5,0.55],[140.4,0.39],[143,0.45],[146,0.42],[150.7,0.43],[154,0.5],[157,0.48],[161,0.55],[165,0.6],[169,0.65],[171.7,0.87],[173,0.6],[176,0.5],[181.4,0.42],[186,0.44],[188,0.41],[192,0.45],[196,0.5],[199.2,0.48],[203,0.55],[206,0.45],[210.5,0.29],[214,0.37],[218,0.45],[223.5,0.55],[227,0.45],[231,0.42],[234.8,0.4],[240,0.43],[244,0.42],[248,0.45],[254.2,0.55],[258,0.48],[262,0.42],[267,0.4],[272,0.42],[276,0.38],[280,0.4],[284,0.33],[288,0.28],[294,0.29],[300,0.3],[305,0.28],[310,0.27],[314,0.29],[318,0.28],[324,0.33],[328,0.3],[333,0.31],[337,0.28],[340,0.27],[342.2,0.55],[344,0.33],[348,0.36],[352,0.32],[355,0.35],[359.3,0.45],[364,0.37],[368,0.3],[372,0.27],[376,0.25],[380,0.3],[384,0.26],[388,0.22],[392,0.2],[396,0.18],[400,0.16],[403,0.15],[407,0.16],[412,0.17],[416,0.16],[420,0.15],[425,0.16],[430,0.14],[435,0.14],[438,0.13],[440.1,0.35],[442,0.13],[444,0.125],[448,0.14],[452,0.16],[456,0.18],[460,0.2],[465,0.21],[471,0.23],[476,0.22],[481,0.23],[486,0.21],[492,0.2],[497,0.18],[500,0.17],[502.7,0.19],[507,0.25],[512.4,0.31],[516,0.2],[522,0.15],[528,0.17],[535,0.18],[541,0.16],[547,0.143],[552,0.14],[558,0.13],[563,0.12],[567.4,0.125],[572,0.11],[577,0.1],[582,0.11],[586.1,0.31],[590,0.11],[595,0.1],[600,0.09],[605,0.11],[609.4,0.13],[616,0.14],[624,0.15],[632,0.164],[640,0.14],[648,0.125],[656,0.12],[664,0.103],[670,0.1],[677,0.09],[687,0.15],[694,0.12],[700,0.113],[707.1,0.227],[710,0.11],[716,0.1],[722,0.1],[728,0.11],[735,0.12],[742,0.11],[748,0.12],[755,0.13],[760,0.094],[766,0.09],[772,0.1],[778,0.11],[786.7,0.13],[792,0.11],[798,0.1],[802,0.085],[810,0.08],[830,0.08],[860,0.08],[900,0.08],[950,0.08],[953,0.05]];

// PEM during the 116 Hz injection
const pemInj = [[30.4,1.5],[31.5,2.9],[32.7,2.6],[33.6,1.6],[34.8,2.9],[35.9,3.6],[37.5,1.9],[39.1,2.2],[40.5,2.5],[42,4.0],[43.3,4.0],[44.5,4.8],[45.6,2.6],[47,5.6],[48.8,9.6],[50.3,5.0],[52,4.3],[53.5,4.0],[54.5,2.2],[55.3,0.93],[56.2,3],[57,8.0],[58.2,4.5],[59.5,2.8],[61,9.0],[62.2,5.6],[63.4,2.8],[65,4.6],[66.6,4.0],[68.5,4.2],[70.5,6.2],[71.8,6.2],[73,2.3],[74.7,7.6],[76.3,3.0],[78,2.6],[79.5,3.0],[81,3.4],[82.5,2.1],[84.4,2.6],[86,2.4],[87.6,2.9],[89,1.3],[90,1.1],[91.5,1.0],[93.1,1.0],[94.8,0.85],[96.4,1.5],[98,1.8],[99.6,3.3],[101.5,2.9],[103.8,3.6],[106,2.5],[108.7,3.4],[110.5,2.9],[112.5,3.5],[114.2,2.8],[115.3,3.5],[115.8,30],[116,57],[116.3,35],[116.8,2.6],[117.7,2.3],[119,2.2],[120.3,5.0],[121.3,2.0],[122.3,1.5],[124.3,1.4],[126.5,2.6],[128,2.3],[129.7,2.8],[131.5,2.6],[133,3.0],[134.5,2.0],[136.2,2.2],[138.3,1.0],[140.4,0.9],[142.3,0.95],[144.2,1.25],[146.5,0.85],[148.5,1.15],[150.7,0.78],[152.8,1.15],[155,0.8],[157,1.0],[158.8,0.9],[160.4,1.35],[162.5,0.95],[164.7,1.25],[166.9,1.05],[169,1.5],[170.8,1.8],[171.7,8.0],[172.6,2.3],[175,1.1],[177,1.15],[179.3,0.85],[181.4,1.0],[183.5,0.85],[185.8,1.05],[188,0.75],[190.5,1.15],[193.4,1.1],[195.5,1.3],[197.5,0.95],[199.2,1.2],[201.5,1.05],[204,1.5],[206,0.95],[208.2,0.9],[210.5,0.58],[212.5,0.95],[214.8,0.85],[217,1.15],[219,1.0],[221.5,1.35],[223.5,1.25],[225.5,1.35],[228.3,0.85],[231,1.15],[234.8,0.78],[238,1.1],[241.3,0.85],[244.5,1.05],[247.7,0.78],[250.8,1.15],[254.2,1.45],[257.5,0.95],[260.7,1.15],[264,0.85],[267.1,1.1],[270.5,0.92],[273.6,1.15],[276.8,0.82],[280.1,1.1],[282.5,0.7],[285,0.68],[287.3,0.55],[289.8,0.7],[292.2,0.58],[294.6,0.74],[297.8,0.52],[301.1,0.68],[304.3,0.55],[307.6,0.8],[310.8,0.5],[314,0.68],[316.4,0.55],[318.9,0.74],[321.3,0.6],[323.7,1.0],[326.2,0.65],[328.6,0.8],[331.8,0.6],[335,0.85],[337.5,0.55],[339.9,0.65],[341.2,1.2],[342.2,2.1],[343.4,0.9],[344.8,0.85],[348,0.7],[351.2,0.9],[354.5,0.75],[357,1.15],[359.3,1.1],[361.5,1.2],[364.2,0.82],[367.4,0.88],[370.6,0.52],[373.8,0.72],[377.1,0.48],[379.5,0.8],[381.9,0.78],[384.3,0.8],[386.5,0.5],[388.4,0.63],[391.6,0.4],[394.9,0.44],[398.5,0.31],[403,0.38],[406,0.3],[409.4,0.35],[412.5,0.28],[415.9,0.38],[419,0.32],[422.5,0.37],[425.6,0.29],[428.8,0.38],[432.1,0.28],[435.4,0.35],[438.6,0.26],[440.1,1.6],[441.4,0.35],[443.4,0.22],[446,0.32],[448.2,0.26],[451.5,0.38],[454.7,0.28],[458.6,0.44],[462.8,0.4],[466.5,0.58],[470.9,0.41],[474,0.58],[477.4,0.39],[480.6,0.58],[483.8,0.45],[487,0.55],[490.3,0.4],[493,0.5],[495.2,0.36],[497.6,0.43],[500,0.29],[502.7,0.45],[505,0.48],[507.6,0.8],[510,0.7],[512.4,1.1],[513.8,0.65],[515.6,0.8],[518.5,0.44],[522.1,0.38],[525.5,0.33],[528.6,0.46],[531,0.36],[533.4,0.52],[536.5,0.35],[538.5,0.44],[541.5,0.31],[545.5,0.4],[549.6,0.27],[553.5,0.38],[557.7,0.28],[562.5,0.34],[567.4,0.25],[572.2,0.32],[574.5,0.21],[577.1,0.23],[579.5,0.2],[582,0.31],[584.5,0.35],[586.1,1.0],[587.5,0.45],[590,0.23],[594.9,0.36],[597,0.22],[599.1,0.2],[601.3,0.17],[604.5,0.3],[607.8,0.28],[611,0.35],[614.3,0.26],[617.5,0.38],[620.7,0.3],[624,0.4],[627.2,0.31],[632.1,0.39],[635.3,0.27],[638.5,0.34],[641.8,0.23],[645,0.3],[649.8,0.25],[654.7,0.29],[659.6,0.2],[664.4,0.26],[667.7,0.18],[670.9,0.25],[674.1,0.16],[677.3,0.12],[679.8,0.18],[682.2,0.17],[685,0.34],[687.1,0.33],[690.3,0.34],[693.5,0.22],[696.8,0.28],[700,0.21],[703.2,0.29],[705.5,0.3],[707.1,0.85],[708.5,0.26],[711.3,0.22],[716.2,0.16],[719.4,0.23],[722.6,0.17],[725.8,0.25],[729.1,0.21],[732.3,0.29],[735.6,0.22],[738,0.23],[740.4,0.16],[745.3,0.19],[748,0.17],[750.1,0.26],[752.5,0.23],[754.3,0.34],[756,0.18],[758.2,0.12],[761.5,0.16],[764.7,0.12],[768,0.21],[771.1,0.2],[774.5,0.27],[777.6,0.21],[782.5,0.28],[786.7,0.27],[789.5,0.31],[792.2,0.22],[797,0.26],[799.5,0.17],[801.9,0.17],[805,0.12],[808.3,0.14],[811,0.105],[813.2,0.12],[815.5,0.12],[817.1,0.2],[818.8,0.115],[821.3,0.095],[824,0.12],[826.1,0.1],[829,0.11],[832.6,0.085],[836.5,0.11],[840.7,0.115],[843,0.13],[845.5,0.32],[847,0.12],[849,0.1],[852,0.13],[855,0.11],[857.8,0.28],[859.5,0.11],[861.7,0.09],[865.5,0.12],[869.8,0.11],[873,0.18],[875.5,0.12],[877.9,0.14],[881,0.1],[884.3,0.12],[887.5,0.09],[890.8,0.12],[894,0.095],[897.3,0.115],[900.5,0.09],[903.7,0.105],[908.5,0.09],[913.4,0.11],[916.5,0.09],[919.9,0.1],[925,0.095],[929.6,0.12],[933,0.11],[936.1,0.27],[938.5,0.13],[940.5,0.17],[942.5,0.1],[945,0.09],[948,0.085],[951,0.07],[953,0.05]];

/* Layout and style. */
const W = 1859, H = 1643;
const X0 = 167.5, X1 = 1823.5;
const COL = {mean: '#000', band: '#808080', pct: '#aaaaaa', inj: '#ef3030', injLegend: '#ff3333', limit: '#8fbbd9', proj: '#2ca02c', grid: '#c4c4c4', spine: '#a0a0a0'};
const TICK_FS = 31, LABEL_FS = 37.5, LEGEND_FS = 31;

const panels = [
    {top: 24.5, bottom: 750, dom: [1e-24, 1e-19], unit: STRAIN_UNIT,
     mean: strainMean, p10: strainP10, p90: strainP90, inj: strainInj, limit: strainLimit, proj: strainProj,
     label: ['Strain [/\u221A', 'Hz', ']'], labelX: 48, showX: false},
    {top: 816, bottom: 1541, dom: [1e-4, 1e-1], unit: PEM_UNIT,
     mean: pemMean, p10: pemP10, p90: pemP90, inj: pemInj, limit: null, proj: null,
     label: ['PEM [unit/\u221A', 'Hz', ']'], labelX: 62, showX: true}
];

const x = d3.scaleLinear().domain([0, 1000]).range([X0, X1]);

const svg = d3.select('#chart').append('svg')
    .attr('width', W)
    .attr('height', H);
svg.append('rect').attr('width', W).attr('height', H).attr('fill', '#fff');

const defs = svg.append('defs');
// '/' hatch for the projection limit.
const hatch = defs.append('pattern')
    .attr('id', 'hatch')
    .attr('patternUnits', 'userSpaceOnUse')
    .attr('width', 32)
    .attr('height', 32);
hatch.append('path')
    .attr('d', 'M-8,8L8,-8M0,32L32,0M24,40L40,24')
    .attr('stroke', COL.limit)
    .attr('stroke-width', 2);

function drawPanel(p, i) {
    const y = d3.scaleLog().domain(p.dom).range([p.bottom, p.top]);
    const yv = d => y(d[1] * p.unit);

    defs.append('clipPath').attr('id', 'clip' + i)
        .append('rect')
        .attr('x', X0).attr('y', p.top)
        .attr('width', X1 - X0).attr('height', p.bottom - p.top);

    const g = svg.append('g');
    const plot = g.append('g').attr('clip-path', 'url(#clip' + i + ')');
    const line = d3.line().x(d => x(d[0])).y(yv);

    // Hatched projection limit.
    let limitArea;
    if (p.limit) {
        limitArea = d3.area().x(d => x(d[0])).y0(p.bottom).y1(yv);
        plot.append('path').attr('d', limitArea(p.limit)).attr('fill', 'url(#hatch)');
    }

    // Grid.
    const majors = d3.range(Math.log10(p.dom[0]), Math.log10(p.dom[1]) + 1).map(e => Math.pow(10, e));
    plot.append('g').selectAll('line').data(xTicks).join('line')
        .attr('x1', d => x(d)).attr('x2', d => x(d))
        .attr('y1', p.top).attr('y2', p.bottom)
        .attr('stroke', COL.grid).attr('stroke-width', 1.6);
    plot.append('g').selectAll('line').data(majors).join('line')
        .attr('x1', X0).attr('x2', X1)
        .attr('y1', d => y(d)).attr('y2', d => y(d))
        .attr('stroke', COL.grid).attr('stroke-width', 1.6);

    // Reference 10%-90% band.
    const band = p.p90.concat(p.p10.slice().reverse());
    plot.append('path').attr('d', line(band) + 'Z')
        .attr('fill', COL.band).attr('fill-opacity', 0.2);
    for (const s of [p.p10, p.p90])
        plot.append('path').attr('d', line(s))
            .attr('fill', 'none').attr('stroke', COL.pct).attr('stroke-width', 2.5)
            .attr('stroke-linejoin', 'round');

    if (p.limit)
        plot.append('path').attr('d', limitArea(p.limit))
            .attr('fill', 'none').attr('stroke', COL.limit).attr('stroke-width', 2.5)
            .attr('stroke-linejoin', 'round');

    plot.append('path').attr('d', line(p.inj))
        .attr('fill', 'none').attr('stroke', COL.inj).attr('stroke-width', 4.5)
        .attr('stroke-linejoin', 'round');
    plot.append('path').attr('d', line(p.mean))
        .attr('fill', 'none').attr('stroke', COL.mean).attr('stroke-width', 5)
        .attr('stroke-linejoin', 'round');

    if (p.proj)
        plot.append('g').selectAll('circle').data(p.proj).join('circle')
            .attr('cx', d => x(d[0])).attr('cy', yv).attr('r', 9)
            .attr('fill', COL.proj).attr('fill-opacity', 0.8);

    // Injection frequency marker.
    plot.append('line')
        .attr('x1', x(injectionFreq)).attr('x2', x(injectionFreq))
        .attr('y1', p.top).attr('y2', p.bottom)
        .attr('stroke', 'red').attr('stroke-width', 2.5).attr('stroke-dasharray', '2.5,3.5');

    // Frame.
    g.append('rect')
        .attr('x', X0).attr('y', p.top)
        .attr('width', X1 - X0).attr('height', p.bottom - p.top)
        .attr('fill', 'none').attr('stroke', COL.spine).attr('stroke-width', 2.5);

    // Y axis: minor and major ticks, labels as 10^n.
    const minors = [];
    for (const m of majors.slice(0, -1))
        for (let k = 2; k < 10; k++) minors.push(m * k);
    const yMinor = g.append('g').attr('transform', 'translate(' + X0 + ',0)')
        .call(d3.axisLeft(y).tickValues(minors).tickSize(5).tickFormat(''));
    const yMajor = g.append('g').attr('transform', 'translate(' + X0 + ',0)')
        .call(d3.axisLeft(y).tickValues(majors).tickSize(9).tickFormat(''));
    for (const ax of [yMinor, yMajor]) {
        ax.select('.domain').remove();
        ax.selectAll('.tick line').attr('stroke', '#000').attr('stroke-width', 1.8);
        ax.selectAll('.tick text').remove();
    }
    const lab = yMajor.selectAll('.tick').append('text')
        .attr('x', -22.5).attr('y', 10.5)
        .attr('text-anchor', 'end')
        .attr('font-size', TICK_FS);
    lab.append('tspan').text('10');
    lab.append('tspan').attr('font-size', 21).attr('dy', -11)
        .text(d => '\u2212' + Math.abs(Math.round(Math.log10(d))));

    // X axis.
    const xa = g.append('g').attr('transform', 'translate(0,' + p.bottom + ')')
        .call(d3.axisBottom(x).tickValues(xTicks).tickSize(9).tickFormat(''));
    xa.select('.domain').remove();
    xa.selectAll('.tick line').attr('stroke', '#000').attr('stroke-width', 1.8);
    xa.selectAll('.tick text').remove();
    if (p.showX)
        xa.selectAll('.tick').append('text')
            .attr('y', 41).attr('text-anchor', 'middle').attr('font-size', TICK_FS)
            .text(d => d);

    // Y label with a radical bar over Hz.
    const cy = (p.top + p.bottom) / 2;
    const lg = g.append('g').attr('transform', 'translate(' + p.labelX + ',' + cy + ') rotate(-90)');
    const lt = lg.append('text').attr('text-anchor', 'middle').attr('font-size', LABEL_FS)
        .text(p.label.join(''));
    const n = lt.node();
    const iRad = p.label[0].length - 1;
    const bx0 = n.getEndPositionOfChar(iRad).x - 1.5;
    const bx1 = n.getEndPositionOfChar(iRad + 2).x + 1;
    lg.append('line').attr('x1', bx0).attr('x2', bx1)
        .attr('y1', -0.8 * LABEL_FS).attr('y2', -0.8 * LABEL_FS)
        .attr('stroke', '#000').attr('stroke-width', 2);
}

panels.forEach(drawPanel);

// Title (partly above the page edge, as in the original figure) and x label.
svg.append('text').attr('x', (X0 + X1) / 2).attr('y', 9)
    .attr('text-anchor', 'middle').attr('font-size', LABEL_FS).text(chartTitle);
svg.append('text').attr('x', (X0 + X1) / 2).attr('y', 1630)
    .attr('text-anchor', 'middle').attr('font-size', LABEL_FS).text('Frequency [Hz]');

/* Legends. */
function legendBox(box, title, titleY) {
    const lg = svg.append('g');
    lg.append('rect').attr('x', box[0]).attr('y', box[1]).attr('width', box[2]).attr('height', box[3])
        .attr('fill', '#fff').attr('fill-opacity', 0.85)
        .attr('stroke', COL.spine).attr('stroke-width', 2.5);
    lg.append('text').attr('x', box[0] + box[2] / 2).attr('y', titleY)
        .attr('text-anchor', 'middle').attr('font-size', LEGEND_FS).text(title);
    return lg;
}

function legendText(lg, tx, ty, label) {
    lg.append('text').attr('x', tx).attr('y', ty).attr('font-size', LEGEND_FS).text(label);
}

const topLeg = legendBox([983, 41, 825, 149], strainChannel, 76);
topLeg.append('rect').attr('x', 998).attr('y', 106).attr('width', 28).attr('height', 13).attr('fill', COL.mean);
legendText(topLeg, 1054, 122, 'Reference (mean, 10%, 90%)');
topLeg.append('rect').attr('x', 998).attr('y', 152).attr('width', 28).attr('height', 13).attr('fill', COL.injLegend);
legendText(topLeg, 1054, 168, '116.0 Hz injection');
topLeg.selectAll('circle.p').data([1541, 1557]).join('circle')
    .attr('cx', d => d).attr('cy', 112.5).attr('r', 8.5)
    .attr('fill', COL.proj).attr('fill-opacity', 0.85);
legendText(topLeg, 1591, 122, 'Projection');
topLeg.append('rect').attr('x', 1533).attr('y', 148).attr('width', 32).attr('height', 22)
    .attr('fill', 'none').attr('stroke', COL.limit).attr('stroke-width', 2.5);
topLeg.append('line').attr('x1', 1537).attr('y1', 170).attr('x2', 1561).attr('y2', 148)
    .attr('stroke', COL.limit).attr('stroke-width', 2);
legendText(topLeg, 1591, 168, 'Projection limit');

const botLeg = legendBox([938, 832, 867, 102], pemChannel, 868);
botLeg.append('rect').attr('x', 953).attr('y', 901).attr('width', 28).attr('height', 12).attr('fill', COL.mean);
legendText(botLeg, 1008, 915, 'Reference (mean, 10%, 90%)');
botLeg.append('rect').attr('x', 1486).attr('y', 901).attr('width', 28).attr('height', 12).attr('fill', COL.injLegend);
legendText(botLeg, 1542, 915, '116.0 Hz injection');
</script>
</body>
</html>
